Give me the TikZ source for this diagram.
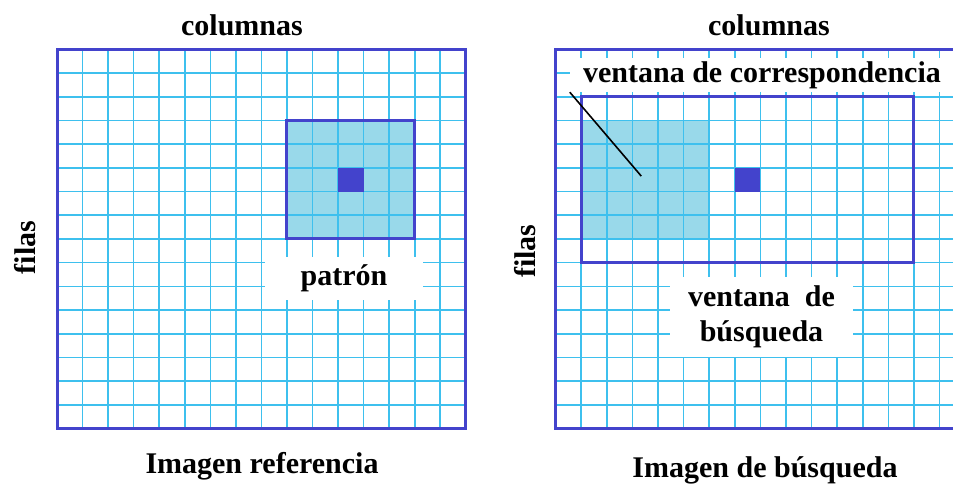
\documentclass[tikz,border=0pt]{standalone}
\usepackage{fontspec}
\setmainfont{Liberation Serif}
\usetikzlibrary{positioning}
\definecolor{FrameBlue}{HTML}{4343CC}
\definecolor{GridBlue}{HTML}{3EC0EE}
\definecolor{PatchFill}{HTML}{99D9EA}
\tikzset{gridline/.style={draw=GridBlue,line width=1.6pt},frame/.style={draw=FrameBlue,line width=3pt},
 lbl/.style={font=\fontsize{30}{35}\selectfont\bfseries,align=center},
 tag/.style={lbl,fill=white,inner sep=0pt}}

\begin{document}
\begin{tikzpicture}[x=1pt,y=-1pt]
\path[use as bounding box,clip] (0,0) rectangle (953,485);
% imagen referencia
\begin{scope}[shift={(57,49.3)},x=25.55pt,y=-23.7pt]
\fill[PatchFill] (9,3) rectangle (14,8);
\foreach \i in {1,...,15} {\draw[gridline] (\i,0) -- (\i,16);\draw[gridline] (0,\i) -- (16,\i);}
\fill[FrameBlue] (11,5) rectangle (12,6);
\draw[frame] (9,3) rectangle (14,8);
\draw[frame] (0,0) rectangle (16,16);
\end{scope}
% imagen de busqueda
\begin{scope}[shift={(555.5,49.3)},x=25.6pt,y=-23.7pt]
\fill[PatchFill] (1,3) rectangle (6,8);
\foreach \i in {1,...,15} {\draw[gridline] (\i,0) -- (\i,16);\draw[gridline] (0,\i) -- (16,\i);}
\fill[FrameBlue] (7,5) rectangle (8,6);
\draw[frame] (1,2) rectangle (14,9);
\draw[frame] (0,0) rectangle (16,16);
\coordinate (corrpt) at (3.35,5.35);
\end{scope}
% textos
\node[lbl] (colL) at (242,25) {columnas};\node[lbl] (colR) at (769,25) {columnas};
\node[lbl,rotate=90] (filasL) at (25,247.5) {filas};\node[lbl,rotate=90] (filasR) at (525,251) {filas};
\node[tag,minimum width=158,minimum height=43] (patron) at (344,278.5) {patrón};
\node[tag,minimum width=183,minimum height=80] (busq) at (761.5,317) {ventana~~de\\búsqueda};
\node[tag,minimum width=384,minimum height=34] (corr) at (762,75) {ventana de correspondencia};
\node[lbl] (imgL) at (262,466) {Imagen referencia};\node[lbl] (imgR) at (765,470) {Imagen de búsqueda};
\draw[line width=1.6pt] (corr.south west) -- (corrpt);
\end{tikzpicture}
\end{document}
